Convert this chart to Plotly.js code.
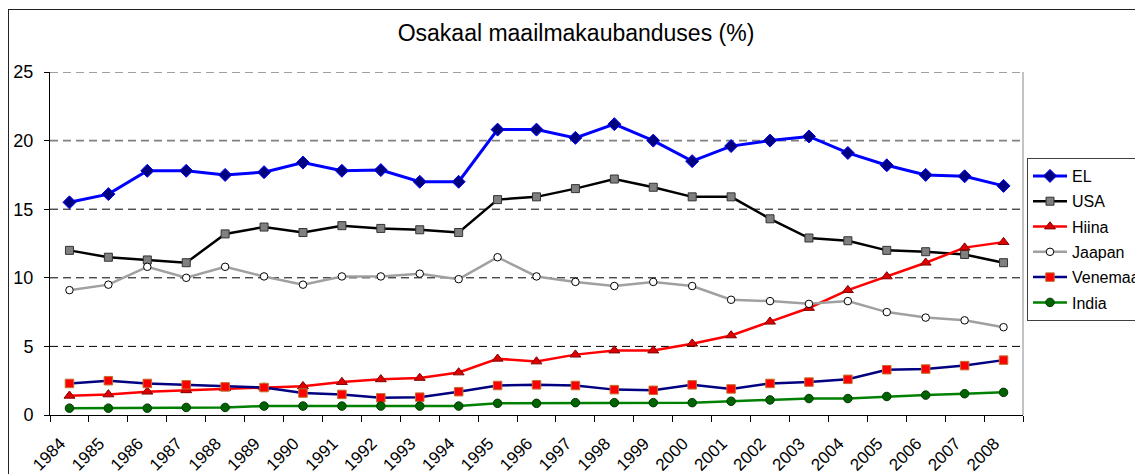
<!DOCTYPE html>
<html>
<head>
<meta charset="utf-8">
<script src="https://cdn.plot.ly/plotly-3.0.1.min.js"></script>
<style>
  html, body { margin: 0; padding: 0; background: #fff; overflow: hidden; }
  #frame { position: absolute; left: 8px; top: 9px; width: 2000px; height: 2000px;
           border-left: 1px solid #222; border-top: 1px solid #222; pointer-events: none; z-index: 5; }
  #chart { position: absolute; left: 0; top: 0; width: 1135px; height: 474px; }
</style>
</head>
<body>
<div id="chart"></div>
<div id="frame"></div>
<script>
const years = ['1984','1985','1986','1987','1988','1989','1990','1991','1992','1993','1994','1995','1996',
               '1997','1998','1999','2000','2001','2002','2003','2004','2005','2006','2007','2008'];

const EL      = [15.5,16.1,17.8,17.8,17.5,17.7,18.4,17.8,17.85,17.0,17.0,20.8,20.8,20.2,21.2,20.0,18.5,19.6,20.0,20.3,19.1,18.2,17.5,17.4,16.7];
const USA     = [12.0,11.5,11.3,11.1,13.2,13.7,13.3,13.8,13.6,13.5,13.3,15.7,15.9,16.5,17.2,16.6,15.9,15.9,14.3,12.9,12.7,12.0,11.9,11.7,11.1];
const Hiina   = [1.4,1.5,1.7,1.8,1.95,2.0,2.1,2.4,2.6,2.7,3.1,4.1,3.9,4.4,4.7,4.7,5.2,5.8,6.8,7.8,9.1,10.1,11.1,12.2,12.6];
const Jaapan  = [9.1,9.5,10.8,10.0,10.8,10.1,9.5,10.1,10.1,10.3,9.9,11.5,10.1,9.7,9.4,9.7,9.4,8.4,8.3,8.1,8.3,7.5,7.1,6.9,6.4];
const Venemaa = [2.3,2.5,2.3,2.2,2.05,2.0,1.6,1.5,1.25,1.3,1.7,2.15,2.2,2.15,1.85,1.8,2.2,1.9,2.3,2.4,2.6,3.3,3.35,3.6,4.0];
const India   = [0.5,0.5,0.5,0.55,0.55,0.65,0.65,0.65,0.65,0.65,0.65,0.85,0.85,0.9,0.9,0.9,0.9,1.0,1.1,1.2,1.2,1.35,1.45,1.55,1.65];

const yTicks = [0,5,10,15,20,25];
const blackGrid = [5,10,15];
const grayGrid = [20,25];

const FONT = 'Liberation Sans, Arial, sans-serif';

function tr(name, y, lineColor, lw, sym, size, fill, edge) {
  return {
    type: 'scatter', mode: 'lines+markers', name: name, legendgroup: name, x: years, y: y,
    line: {color: lineColor, width: lw},
    marker: {symbol: sym, size: size, color: fill, line: {color: edge, width: 1}}
  };
}

const data = [
  tr('EL', EL, '#0000FF', 3, 'diamond', 10, '#000080', '#0000FF'),
  tr('USA', USA, '#000000', 2.5, 'square', 8, '#808080', '#333333'),
  tr('Hiina', Hiina, '#FF0000', 2.5, 'triangle-up', 9.5, '#DD0000', '#800000'),
  tr('Jaapan', Jaapan, '#A0A0A0', 2.5, 'circle', 7.5, '#FFFFFF', '#000000'),
  tr('Venemaa', Venemaa, '#000080', 2.5, 'square', 8.5, '#FF0000', '#C07030'),
  tr('India', India, '#008000', 2.5, 'circle', 8.5, '#006400', '#003300')
];

const gridShapes = [];
blackGrid.forEach(v => gridShapes.push({
  type: 'line', layer: 'below', xref: 'paper', x0: 0, x1: 1, yref: 'y', y0: v, y1: v,
  line: {color: '#000', width: 1, dash: '8px,5px'}
}));
grayGrid.forEach(v => gridShapes.push({
  type: 'line', layer: 'below', xref: 'paper', x0: 0, x1: 1, yref: 'y', y0: v, y1: v,
  line: {color: '#808080', width: 1.6, dash: '8px,5px'}
}));
gridShapes.push({
  type: 'line', layer: 'below', xref: 'paper', x0: 1, x1: 1, yref: 'paper', y0: 0, y1: 1,
  line: {color: '#888', width: 1}
});

const layout = {
  width: 1135, height: 474,
  margin: {l: 50, r: 112, t: 72, b: 59},
  paper_bgcolor: 'rgba(0,0,0,0)', plot_bgcolor: 'rgba(0,0,0,0)',
  font: {family: FONT, color: '#000'},
  showlegend: true,
  shapes: gridShapes,
  title: {
    text: 'Osakaal maailmakaubanduses (%)',
    font: {family: FONT, size: 23, color: '#000'},
    xref: 'container', x: 576/1135, xanchor: 'center',
    yref: 'container', y: 1 - 33/474, yanchor: 'middle'
  },
  xaxis: {
    type: 'category', range: [-0.5, years.length - 0.5],
    tickson: 'boundaries', ticks: 'outside', ticklen: 6, tickcolor: '#000', tickwidth: 1,
    tickangle: -45, tickfont: {family: FONT, size: 17, color: '#000'},
    ticklabelstandoff: 11, ticklabelshift: -9,
    showline: true, linecolor: '#000', linewidth: 1,
    showgrid: false, zeroline: false
  },
  yaxis: {
    range: [0, 25], tickvals: yTicks, ticktext: yTicks.map(String),
    ticks: 'outside', ticklen: 5, tickcolor: '#000', tickwidth: 1,
    tickfont: {family: FONT, size: 18, color: '#000'}, ticklabelstandoff: 7,
    showline: true, linecolor: '#000', linewidth: 1,
    showgrid: false, zeroline: false
  },
  legend: {
    xref: 'container', yref: 'container',
    x: 1027/1135, y: 1 - 158/474, xanchor: 'left', yanchor: 'top',
    bgcolor: '#FFFFFF', bordercolor: '#404040', borderwidth: 1,
    font: {family: FONT, size: 16, color: '#000'},
    traceorder: 'grouped', tracegroupgap: 1.5, itemwidth: 34
  }
};

Plotly.newPlot('chart', data, layout, {displayModeBar: false, staticPlot: true});
</script>
</body>
</html>
